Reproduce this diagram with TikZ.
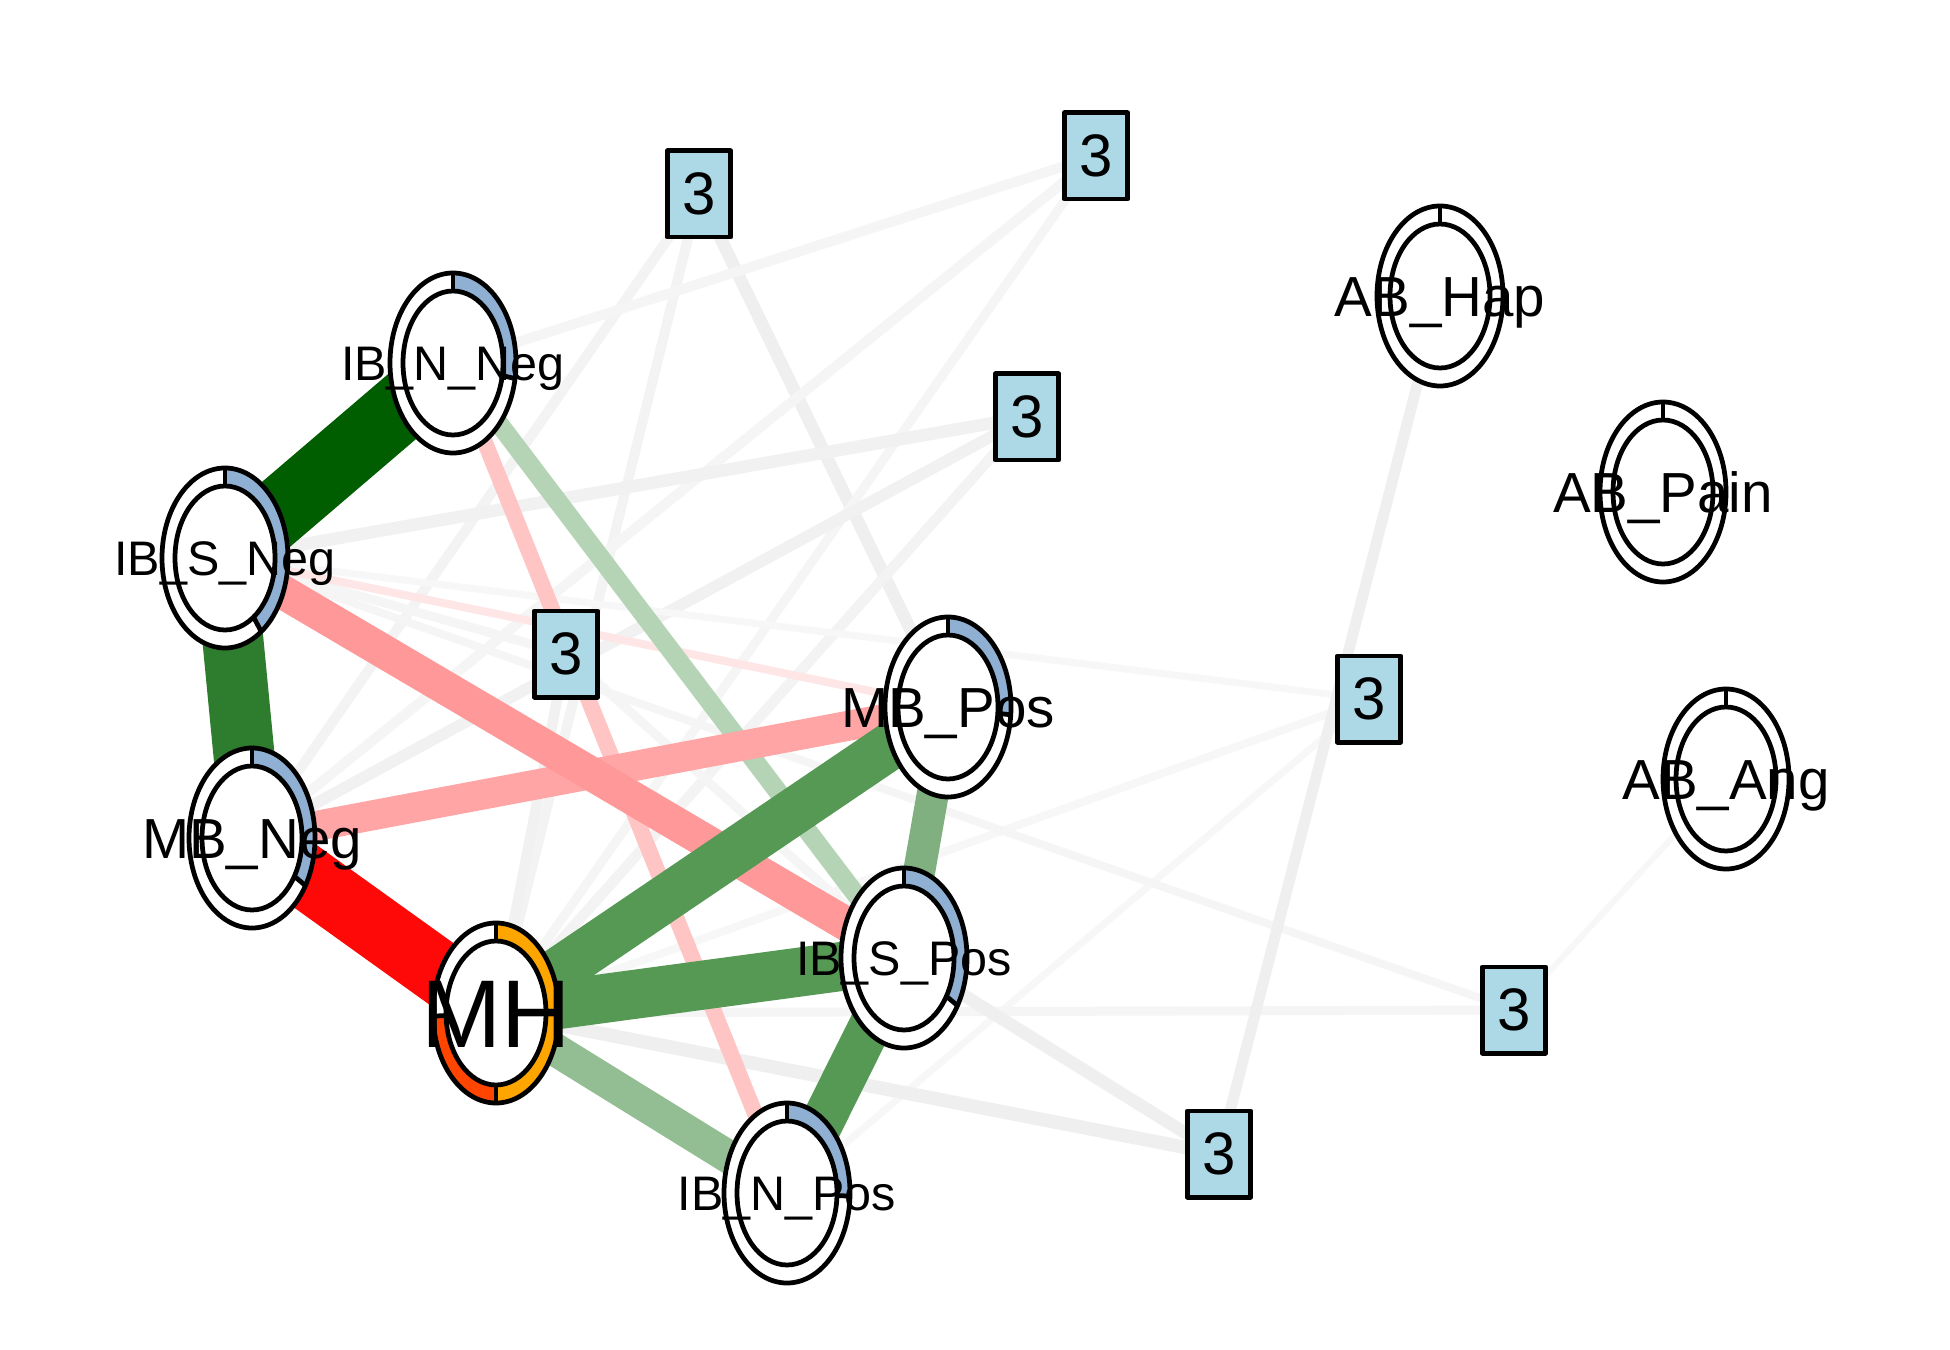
\documentclass[tikz,border=0pt]{standalone}
\usepackage{fontspec}
\setmainfont{Liberation Sans}
\usetikzlibrary{calc}

\definecolor{gA}{RGB}{239,239,239}
\definecolor{gB}{RGB}{241,241,241}
\definecolor{gC}{RGB}{243,243,243}
\definecolor{gD}{RGB}{245,245,245}
\definecolor{gE}{RGB}{247,247,247}
\definecolor{pieblue}{RGB}{143,176,210}
\definecolor{mhorange}{RGB}{255,165,0}
\definecolor{mhred}{RGB}{255,69,0}
\definecolor{sqblue}{RGB}{173,216,230}
\definecolor{cDkGreen}{RGB}{0,94,0}
\definecolor{cGreenA}{RGB}{46,125,46}
\definecolor{cGreenB}{RGB}{85,153,85}
\definecolor{cGreenC}{RGB}{128,176,128}
\definecolor{cGreenD}{RGB}{147,190,147}
\definecolor{cGreenE}{RGB}{181,211,181}
\definecolor{cRed}{RGB}{255,8,8}
\definecolor{cPinkA}{RGB}{255,153,153}
\definecolor{cPinkB}{RGB}{255,165,165}
\definecolor{cPinkC}{RGB}{255,197,197}
\definecolor{cPinkD}{RGB}{255,230,230}
\definecolor{cPinkE}{RGB}{255,205,205}

% ring segment: center, start angle, end angle (clockwise from top), colour
\newcommand\rseg[4]{\fill[#4] ($(#1)+({63*sin(#2)},{-90*cos(#2)})$) arc[start angle={#2-90}, end angle={#3-90}, x radius=63, y radius=90] -- ($(#1)+({50*sin(#3)},{-72*cos(#3)})$) arc[start angle={#3-90}, end angle={#2-90}, x radius=50, y radius=72] -- cycle;}
\newcommand\rtick[2]{\draw[ringline] ($(#1)+({49*sin(#2)},{-71*cos(#2)})$) -- ($(#1)+({64*sin(#2)},{-91*cos(#2)})$);}
\newcommand\rbase[1]{\fill[white] (#1) ellipse[x radius=65, y radius=92];}
\newcommand\rlines[1]{\draw[ringline] (#1) ellipse[x radius=63, y radius=90]; \draw[ringline] (#1) ellipse[x radius=50, y radius=72];}

\begin{document}
\begin{tikzpicture}[x=0.4pt,y=-0.4pt,
  ringline/.style={line width=1.9pt, draw=black},
  lblIB/.style={font=\fontsize{19.4}{20}\selectfont, anchor=base, inner sep=0pt},
  lblMB/.style={font=\fontsize{22.6}{24}\selectfont, anchor=base, inner sep=0pt},
  lblMH/.style={font=\fontsize{38.5}{40}\selectfont, anchor=base, inner sep=0pt},
  sqbox/.style={draw=black, line width=1.9pt, fill=sqblue, minimum width=25.3pt, minimum height=34.5pt, inner sep=0pt, line join=round, font=\fontsize{24}{24}\selectfont},
  ge/.style={line width=#1}
]
\useasboundingbox (0,0) rectangle (1950,1350);
\fill[white] (0,0) rectangle (1950,1350);

% variable node centres
\coordinate (IBNN) at (453,363);
\coordinate (IBSN) at (225,558);
\coordinate (MBN) at (252,838);
\coordinate (MH) at (496,1013);
\coordinate (MBP) at (948,707);
\coordinate (IBSP) at (904,958);
\coordinate (IBNP) at (787,1193);
\coordinate (ABH) at (1440,296);
\coordinate (ABP) at (1663,492);
\coordinate (ABA) at (1726,779);
% factor node centres
\coordinate (S1) at (699,194);
\coordinate (S2) at (1096,156);
\coordinate (S3) at (1027,417);
\coordinate (S4) at (566,654);
\coordinate (S5) at (1369,699);
\coordinate (S6) at (1514,1010);
\coordinate (S7) at (1219,1154);

% grey factor edges
\draw[ge=4pt, gC] (S1) -- (MBN);
\draw[ge=4pt, gC] (S1) -- (MH);
\draw[ge=5pt, gA] (S1) -- (MBP);
\draw[ge=4pt, gD] (S2) -- (IBNN);
\draw[ge=4pt, gD] (S2) -- (MBN);
\draw[ge=3.6pt, gD] (S2) -- (MH);
\draw[ge=5pt, gB] (S3) -- (IBSN);
\draw[ge=4.6pt, gB] (S3) -- (MBN);
\draw[ge=4.2pt, gC] (S3) -- (MH);
\draw[ge=3.6pt, gD] (S4) -- (IBSN);
\draw[ge=4.2pt, gB] (S4) -- (MH);
\draw[ge=3.6pt, gD] (S4) -- (IBSP);
\draw[ge=2.8pt, gE] (S5) -- (IBSN);
\draw[ge=3.2pt, gE] (S5) -- (MH);
\draw[ge=2.8pt, gE] (S5) -- (IBNP);
\draw[ge=3.2pt, gD] (S6) -- (IBSN);
\draw[ge=3.6pt, gD] (S6) -- (MH);
\draw[ge=2.4pt, gE] (S6) -- (ABA);
\draw[ge=5.4pt, gA] (S7) -- (MH);
\draw[ge=5pt, gA] (S7) -- (IBSP);
\draw[ge=4.4pt, gA] (S7) -- (ABH);

% coloured pairwise edges (weakest first)
\draw[ge=2.8pt, cPinkE] (MBN) -- (IBNP);
\draw[ge=3.2pt, cPinkD] (IBSN) -- (MBP);
\draw[ge=6.4pt, cPinkC] (IBNN) -- (IBNP);
\draw[ge=7.6pt, cGreenE] (IBNN) -- (IBSP);
\draw[ge=12pt, cPinkB] (MBN) -- (MBP);
\draw[ge=12.8pt, cGreenC] (MBP) -- (IBSP);
\draw[ge=13.2pt, cGreenD] (MH) -- (IBNP);
\draw[ge=13.6pt, cPinkA] (IBSN) -- (IBSP);
\draw[ge=17.2pt, cGreenB] (IBSP) -- (IBNP);
\draw[ge=18.8pt, cGreenB] (MH) -- (MBP);
\draw[ge=19.6pt, cGreenB] (MH) -- (IBSP);
\draw[ge=24.4pt, cGreenA] (IBSN) -- (MBN);
\draw[ge=25.6pt, cRed] (MBN) -- (MH);
\draw[ge=27pt, cDkGreen] (IBNN) -- (IBSN);

% variable nodes with pie rings
\rbase{IBNN}\rseg{IBNN}{0}{100}{pieblue}\rlines{IBNN}\rtick{IBNN}{0}\rtick{IBNN}{100}
\rbase{IBSN}\rseg{IBSN}{0}{145}{pieblue}\rlines{IBSN}\rtick{IBSN}{0}\rtick{IBSN}{145}
\rbase{MBN}\rseg{MBN}{0}{122}{pieblue}\rlines{MBN}\rtick{MBN}{0}\rtick{MBN}{122}
\rbase{MBP}\rseg{MBP}{0}{95}{pieblue}\rlines{MBP}\rtick{MBP}{0}\rtick{MBP}{95}
\rbase{IBSP}\rseg{IBSP}{0}{122}{pieblue}\rlines{IBSP}\rtick{IBSP}{0}\rtick{IBSP}{122}
\rbase{IBNP}\rseg{IBNP}{0}{92}{pieblue}\rlines{IBNP}\rtick{IBNP}{0}\rtick{IBNP}{92}
\rbase{MH}\rseg{MH}{0}{180}{mhorange}\rseg{MH}{180}{268}{mhred}\rlines{MH}\rtick{MH}{0}\rtick{MH}{180}\rtick{MH}{268}
\rbase{ABH}\rlines{ABH}\rtick{ABH}{0}
\rbase{ABP}\rlines{ABP}\rtick{ABP}{0}
\rbase{ABA}\rlines{ABA}\rtick{ABA}{0}

% factor nodes
\node[sqbox] (S1box) at (S1) {3};
\node[sqbox] (S2box) at (S2) {3};
\node[sqbox] (S3box) at (S3) {3};
\node[sqbox] (S4box) at (S4) {3};
\node[sqbox] (S5box) at (S5) {3};
\node[sqbox] (S6box) at (S6) {3};
\node[sqbox] (S7box) at (S7) {3};

% labels
\node[lblIB] (IBNNlab) at ($(IBNN)+(0,17.4)$) {IB\_N\_Neg};
\node[lblIB] (IBSNlab) at ($(IBSN)+(0,17.4)$) {IB\_S\_Neg};
\node[lblIB] (IBSPlab) at ($(IBSP)+(0,17.4)$) {IB\_S\_Pos};
\node[lblIB] (IBNPlab) at ($(IBNP)+(0,17.4)$) {IB\_N\_Pos};
\node[lblMB] (MBNlab) at ($(MBN)+(0,20.2)$) {MB\_Neg};
\node[lblMB] (MBPlab) at ($(MBP)+(0,20.2)$) {MB\_Pos};
\node[lblMB] (ABHlab) at ($(ABH)+(0,20.2)$) {AB\_Hap};
\node[lblMB] (ABPlab) at ($(ABP)+(0,20.2)$) {AB\_Pain};
\node[lblMB] (ABAlab) at ($(ABA)+(0,20.2)$) {AB\_Ang};
\node[lblMH] (MHlab) at ($(MH)+(0,34.5)$) {MH};
\end{tikzpicture}
\end{document}
